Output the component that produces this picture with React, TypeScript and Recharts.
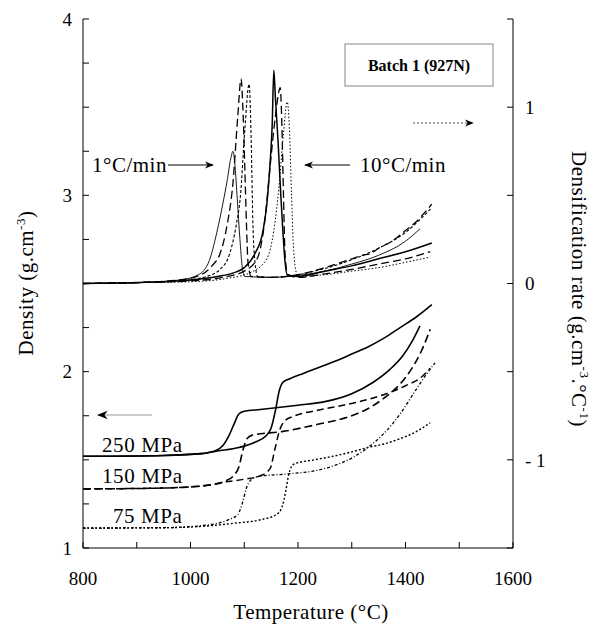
import React from "react";
import { LineChart, Line, XAxis, YAxis } from "recharts";

// Densité (g.cm-3) : [température °C, densité]
const dens250Slow = [[800, 1.52], [950, 1.525], [1020, 1.535], [1045, 1.55], [1060, 1.58], [1072, 1.64], [1082, 1.71], [1090, 1.76], [1100, 1.775], [1130, 1.785], [1200, 1.81], [1250, 1.83], [1300, 1.875], [1340, 1.94], [1370, 2.01], [1395, 2.09], [1412, 2.17], [1427, 2.26]];
const dens250Fast = [[800, 1.52], [950, 1.525], [1020, 1.535], [1050, 1.55], [1090, 1.57], [1120, 1.6], [1140, 1.635], [1150, 1.68], [1158, 1.78], [1165, 1.89], [1172, 1.94], [1185, 1.96], [1210, 1.99], [1235, 2.02], [1270, 2.06], [1300, 2.1], [1330, 2.14], [1360, 2.19], [1390, 2.25], [1420, 2.31], [1449, 2.38]];
const dens150Slow = [[800, 1.335], [950, 1.34], [1030, 1.355], [1065, 1.38], [1080, 1.41], [1090, 1.46], [1098, 1.56], [1105, 1.62], [1115, 1.64], [1170, 1.66], [1235, 1.7], [1300, 1.75], [1330, 1.79], [1360, 1.85], [1390, 1.93], [1410, 2.01], [1430, 2.12], [1446, 2.24]];
const dens150Fast = [[800, 1.335], [950, 1.34], [1030, 1.355], [1065, 1.375], [1100, 1.39], [1130, 1.41], [1148, 1.45], [1157, 1.56], [1166, 1.67], [1175, 1.72], [1190, 1.745], [1235, 1.78], [1300, 1.82], [1350, 1.86], [1400, 1.92], [1430, 1.97], [1446, 2.02]];
const dens75Slow = [[800, 1.113], [950, 1.115], [1030, 1.13], [1070, 1.16], [1088, 1.19], [1097, 1.26], [1104, 1.34], [1112, 1.385], [1125, 1.405], [1180, 1.42], [1235, 1.44], [1270, 1.47], [1300, 1.51], [1330, 1.57], [1360, 1.65], [1390, 1.76], [1420, 1.9], [1440, 1.99], [1455, 2.05]];
const dens75Fast = [[800, 1.113], [950, 1.115], [1030, 1.125], [1080, 1.14], [1130, 1.16], [1160, 1.19], [1170, 1.23], [1177, 1.32], [1183, 1.42], [1192, 1.475], [1230, 1.5], [1265, 1.52], [1300, 1.545], [1330, 1.57], [1360, 1.59], [1390, 1.62], [1420, 1.66], [1446, 1.71]];

// Vitesse de densification : [température °C, vitesse]
const rate250Slow = [[800, 0], [900, 0.005], [980, 0.02], [1015, 0.05], [1035, 0.13], [1049, 0.29], [1060, 0.45], [1068, 0.58], [1075, 0.71], [1079, 0.75], [1083, 0.66], [1087, 0.48], [1092, 0.25], [1096, 0.1], [1101, 0.04], [1150, 0.035], [1200, 0.045], [1250, 0.07], [1300, 0.11], [1350, 0.16], [1400, 0.24], [1427, 0.31]];
const rate150Slow = [[800, 0], [900, 0.005], [980, 0.02], [1020, 0.05], [1040, 0.1], [1055, 0.17], [1068, 0.33], [1079, 0.57], [1088, 0.95], [1094, 1.16], [1098, 0.95], [1101, 0.66], [1104, 0.35], [1107, 0.12], [1113, 0.04], [1150, 0.035], [1200, 0.05], [1250, 0.09], [1300, 0.14], [1320, 0.16], [1335, 0.17], [1350, 0.2], [1375, 0.24], [1400, 0.3], [1420, 0.35], [1435, 0.4], [1449, 0.45]];
const rate75Slow = [[800, 0], [900, 0.005], [980, 0.015], [1030, 0.04], [1055, 0.08], [1073, 0.17], [1085, 0.33], [1093, 0.5], [1101, 0.87], [1109, 1.13], [1113, 0.8], [1116, 0.35], [1120, 0.12], [1125, 0.04], [1150, 0.035], [1200, 0.05], [1250, 0.085], [1300, 0.135], [1350, 0.2], [1400, 0.29], [1449, 0.43]];
const rate250Fast = [[800, 0], [900, 0.005], [1000, 0.02], [1050, 0.04], [1080, 0.06], [1100, 0.09], [1120, 0.17], [1135, 0.3], [1142, 0.45], [1148, 0.68], [1152, 0.9], [1155, 1.21], [1158, 1.05], [1163, 0.8], [1168, 0.5], [1172, 0.29], [1176, 0.12], [1180, 0.05], [1200, 0.04], [1250, 0.07], [1300, 0.1], [1350, 0.14], [1400, 0.18], [1449, 0.23]];
const rate150Fast = [[800, 0], [900, 0.005], [1000, 0.015], [1060, 0.035], [1100, 0.07], [1124, 0.14], [1138, 0.35], [1148, 0.66], [1158, 0.95], [1167, 1.11], [1170, 0.9], [1173, 0.5], [1176, 0.16], [1181, 0.05], [1200, 0.035], [1250, 0.055], [1300, 0.08], [1350, 0.11], [1400, 0.14], [1446, 0.18]];
const rate75Fast = [[800, 0], [900, 0.005], [1000, 0.01], [1070, 0.03], [1110, 0.06], [1142, 0.14], [1155, 0.3], [1165, 0.56], [1173, 0.85], [1180, 1.03], [1184, 0.88], [1188, 0.5], [1191, 0.24], [1195, 0.09], [1200, 0.04], [1250, 0.05], [1300, 0.07], [1350, 0.09], [1400, 0.12], [1446, 0.15]];

const tempTicks = [800, 900, 1000, 1100, 1200, 1300, 1400, 1500, 1600];
const densityTicks = [1, 1.25, 1.5, 1.75, 2, 2.25, 2.5, 2.75, 3, 3.25, 3.5, 3.75, 4];
const rateTicks = [-1.5, -1, -0.5, 0, 0.5, 1, 1.5];

const FONT = "'Liberation Serif', serif";

const toPts = (a: number[][]) => a.map(([x, y]) => ({ x, y }));

const series = [
  { id: "d250s", data: dens250Slow, axis: "density", dash: undefined, w: 1.6 },
  { id: "d250f", data: dens250Fast, axis: "density", dash: undefined, w: 1.6 },
  { id: "d150s", data: dens150Slow, axis: "density", dash: "8 4", w: 1.6 },
  { id: "d150f", data: dens150Fast, axis: "density", dash: "7 4", w: 1.5 },
  { id: "d75s", data: dens75Slow, axis: "density", dash: "3 2 1 2", w: 1.3 },
  { id: "d75f", data: dens75Fast, axis: "density", dash: "2 2", w: 1.4 },
  { id: "r250s", data: rate250Slow, axis: "rate", dash: undefined, w: 0.9 },
  { id: "r150s", data: rate150Slow, axis: "rate", dash: "8 4", w: 1.3 },
  { id: "r75s", data: rate75Slow, axis: "rate", dash: "3 2", w: 1.1 },
  { id: "r250f", data: rate250Fast, axis: "rate", dash: undefined, w: 1.5 },
  { id: "r150f", data: rate150Fast, axis: "rate", dash: "8 4", w: 1.3 },
  { id: "r75f", data: rate75Fast, axis: "rate", dash: "1.5 2", w: 1 },
];

const tickStyle = { fill: "#000", fontSize: 19, fontFamily: FONT };

export default function App() {
  return (
    <div style={{ position: "absolute", left: 0, top: 0, width: 594, height: 625, background: "#fff" }}>
      <LineChart width={594} height={625} margin={{ top: 19, right: 21, bottom: 37, left: 23 }}>
        <XAxis
          dataKey="x"
          type="number"
          domain={[800, 1600]}
          ticks={tempTicks}
          tickFormatter={(v: number) => (v % 200 === 0 ? String(v) : "")}
          tick={tickStyle}
          tickSize={-6}
          tickMargin={30}
          height={40}
          stroke="#000"
          allowDataOverflow
        />
        <XAxis
          xAxisId="top"
          orientation="top"
          type="number"
          domain={[800, 1600]}
          ticks={tempTicks}
          tick={false}
          tickSize={-6}
          height={0}
          stroke="#000"
        />
        <YAxis
          yAxisId="density"
          type="number"
          domain={[1, 4]}
          ticks={densityTicks}
          tickFormatter={(v: number) => (Number.isInteger(v) ? String(v) : "")}
          tick={tickStyle}
          tickSize={-6}
          tickMargin={17}
          width={60}
          stroke="#000"
          allowDataOverflow
        />
        <YAxis
          yAxisId="rate"
          orientation="right"
          type="number"
          domain={[-1.5, 1.5]}
          ticks={rateTicks}
          tickFormatter={(v: number) => (v === 1 ? "1" : v === 0 ? "0" : v === -1 ? "- 1" : "")}
          tick={tickStyle}
          tickSize={-6}
          tickMargin={18}
          width={60}
          stroke="#000"
          allowDataOverflow
        />
        {series.map((s) => (
          <Line
            key={s.id}
            data={toPts(s.data)}
            dataKey="y"
            yAxisId={s.axis}
            type="monotone"
            dot={false}
            stroke="#000"
            strokeWidth={s.w}
            strokeDasharray={s.dash}
            isAnimationActive={false}
          />
        ))}
      </LineChart>

      {/* annotations */}
      <svg width={594} height={625} style={{ position: "absolute", left: 0, top: 0, pointerEvents: "none" }}>
        <defs>
          <marker id="headR" viewBox="0 0 10 10" refX="9" refY="5" markerWidth="9" markerHeight="9" orient="auto">
            <path d="M0,1 L10,5 L0,9 L3,5 Z" fill="#000" />
          </marker>
        </defs>
        <g fontFamily={FONT} fill="#000">
          <text x={92} y={172} fontSize={21} letterSpacing={0.5}>1°C/min</text>
          <line x1={168} y1={165} x2={213} y2={165} stroke="#000" strokeWidth={1} markerEnd="url(#headR)" />
          <text x={360} y={172} fontSize={21} letterSpacing={0.5}>10°C/min</text>
          <line x1={350} y1={165} x2={305} y2={165} stroke="#000" strokeWidth={1} markerEnd="url(#headR)" />

          <rect x={345} y={44} width={148} height={42} fill="none" stroke="#666" strokeWidth={0.8} />
          <text x={419} y={71} fontSize={16} fontWeight="bold" textAnchor="middle">Batch 1 (927N)</text>
          <line x1={413} y1={123} x2={473} y2={123} stroke="#555" strokeWidth={1} strokeDasharray="2 2" markerEnd="url(#headR)" />

          <line x1={152} y1={415} x2={98} y2={415} stroke="#999" strokeWidth={1.2} markerEnd="url(#headR)" />
          <text x={102} y={452} fontSize={21} letterSpacing={0.6}>250 MPa</text>
          <text x={102} y={483} fontSize={21} letterSpacing={0.6}>150 MPa</text>
          <text x={113} y={523} fontSize={21} letterSpacing={0.6}>75 MPa</text>

          <text x={311} y={619} fontSize={21} textAnchor="middle" letterSpacing={0.5}>Temperature (°C)</text>
          <text transform="translate(33,283) rotate(-90)" fontSize={21} textAnchor="middle" letterSpacing={0.5}>
            Density (g.cm<tspan dy={-8} fontSize={13}>-3</tspan><tspan dy={8}>)</tspan>
          </text>
          <text transform="translate(572,289) rotate(90)" fontSize={21} textAnchor="middle" letterSpacing={0.5}>
            Densification rate (g.cm<tspan dy={-8} fontSize={13}>-3</tspan><tspan dy={8}>.°C</tspan><tspan dy={-8} fontSize={13}>-1</tspan><tspan dy={8}>)</tspan>
          </text>
        </g>
      </svg>
    </div>
  );
}
